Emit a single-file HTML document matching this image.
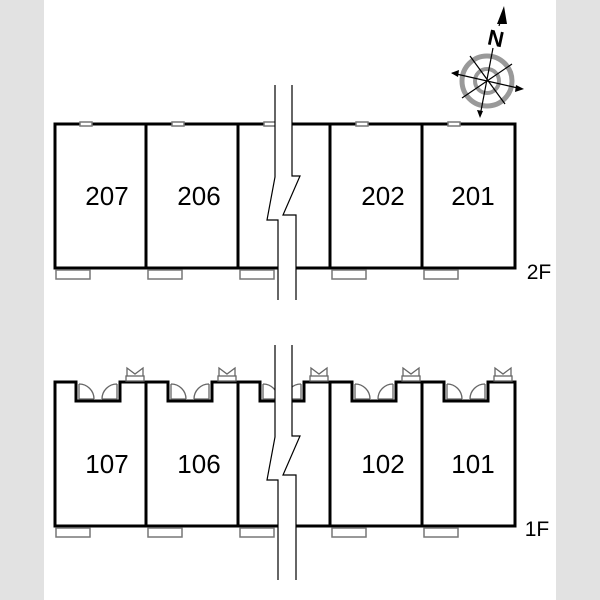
<!DOCTYPE html>
<html><head><meta charset="utf-8"><style>
html,body{margin:0;padding:0;background:#fff}
svg{display:block}
text{font-family:"Liberation Sans",sans-serif}
</style></head><body>
<svg width="600" height="600" viewBox="0 0 600 600" xmlns="http://www.w3.org/2000/svg">
<rect x="0" y="0" width="600" height="600" fill="#fff"/>
<rect x="0" y="0" width="44" height="600" fill="#e2e2e2"/>
<rect x="556" y="0" width="44" height="600" fill="#e2e2e2"/>

<g fill="none" stroke="#000" stroke-width="3">
<rect x="55" y="124" width="460" height="144"/>
<line x1="146" y1="124" x2="146" y2="268"/>
<line x1="238" y1="124" x2="238" y2="268"/>
<line x1="330" y1="124" x2="330" y2="268"/>
<line x1="422" y1="124" x2="422" y2="268"/>
</g>
<g fill="#fff" stroke="#777" stroke-width="1.5">
<rect x="56" y="270" width="34" height="9"/><rect x="148" y="270" width="34" height="9"/><rect x="240" y="270" width="34" height="9"/><rect x="332" y="270" width="34" height="9"/><rect x="424" y="270" width="34" height="9"/>
<rect x="80" y="122" width="12" height="4"/><rect x="172" y="122" width="12" height="4"/><rect x="264" y="122" width="12" height="4"/><rect x="356" y="122" width="12" height="4"/><rect x="448" y="122" width="12" height="4"/>
</g>
<g font-size="26" text-anchor="middle" fill="#000">
<text x="107" y="205">207</text><text x="199" y="205">206</text><text x="383" y="205">202</text><text x="473" y="205">201</text>
<text x="539" y="279" font-size="21">2F</text>
</g>
<path d="M275 85 L275 177 L267 220 L278 220 L278 300 L296 300 L296 215 L283 215 L300 176 L292 176 L292 85 Z" fill="#fff" stroke="none"/>
<g fill="none" stroke="#000" stroke-width="1.2">
<path d="M275 85 L275 177 L267 220 L278 220 L278 300"/>
<path d="M292 85 L292 176 L300 176 L283 215 L296 215 L296 300"/>
</g>

<g fill="none" stroke="#000" stroke-width="3">
<path d="M55 526 L55 382 L76 382 L76 401 L120 401 L120 382 L168 382 L168 401 L212 401 L212 382 L260 382 L260 401 L304 401 L304 382 L352 382 L352 401 L396 401 L396 382 L444 382 L444 401 L488 401 L488 382 L515 382 L515 526 Z"/>
<line x1="146" y1="382" x2="146" y2="526"/>
<line x1="238" y1="382" x2="238" y2="526"/>
<line x1="330" y1="382" x2="330" y2="526"/>
<line x1="422" y1="382" x2="422" y2="526"/>
</g>
<g fill="#fff" stroke="#777" stroke-width="1.5">
<rect x="56" y="528" width="34" height="9"/><rect x="148" y="528" width="34" height="9"/><rect x="240" y="528" width="34" height="9"/><rect x="332" y="528" width="34" height="9"/><rect x="424" y="528" width="34" height="9"/>
</g>
<g fill="none" stroke="#666" stroke-width="1.3">
<g><path d="M79 384 L79 399 L94 399 M79 384 A15 15 0 0 1 94 399"/><path d="M117 384 L117 399 L102 399 M117 384 A15 15 0 0 0 102 399"/><rect x="126" y="376" width="18" height="5"/><path d="M127 376 L127 368 L135 374 L143 368 L143 376"/></g>
<g transform="translate(92,0)"><path d="M79 384 L79 399 L94 399 M79 384 A15 15 0 0 1 94 399"/><path d="M117 384 L117 399 L102 399 M117 384 A15 15 0 0 0 102 399"/><rect x="126" y="376" width="18" height="5"/><path d="M127 376 L127 368 L135 374 L143 368 L143 376"/></g>
<g transform="translate(184,0)"><path d="M79 384 L79 399 L94 399 M79 384 A15 15 0 0 1 94 399"/><path d="M117 384 L117 399 L102 399 M117 384 A15 15 0 0 0 102 399"/><rect x="126" y="376" width="18" height="5"/><path d="M127 376 L127 368 L135 374 L143 368 L143 376"/></g>
<g transform="translate(276,0)"><path d="M79 384 L79 399 L94 399 M79 384 A15 15 0 0 1 94 399"/><path d="M117 384 L117 399 L102 399 M117 384 A15 15 0 0 0 102 399"/><rect x="126" y="376" width="18" height="5"/><path d="M127 376 L127 368 L135 374 L143 368 L143 376"/></g>
<g transform="translate(368,0)"><path d="M79 384 L79 399 L94 399 M79 384 A15 15 0 0 1 94 399"/><path d="M117 384 L117 399 L102 399 M117 384 A15 15 0 0 0 102 399"/><rect x="126" y="376" width="18" height="5"/><path d="M127 376 L127 368 L135 374 L143 368 L143 376"/></g>
</g>
<g font-size="26" text-anchor="middle" fill="#000">
<text x="107" y="473">107</text><text x="199" y="473">106</text><text x="383" y="473">102</text><text x="473" y="473">101</text>
<text x="537" y="536" font-size="21">1F</text>
</g>
<path d="M275 345 L275 437 L267 480 L278 480 L278 580 L296 580 L296 475 L283 475 L300 436 L292 436 L292 345 Z" fill="#fff" stroke="none"/>
<g fill="none" stroke="#000" stroke-width="1.2">
<path d="M275 345 L275 437 L267 480 L278 480 L278 580"/>
<path d="M292 345 L292 436 L300 436 L283 475 L296 475 L296 580"/>
</g>

<g>
<circle cx="487" cy="81" r="25" fill="none" stroke="#999" stroke-width="5"/>
<circle cx="487" cy="81" r="12" fill="none" stroke="#999" stroke-width="4"/>
<g stroke="#000" stroke-width="1.2">
<line x1="493" y1="48" x2="480" y2="116"/>
<line x1="452" y1="73" x2="522" y2="89"/>
<line x1="462" y1="98" x2="512" y2="64"/>
<line x1="470" y1="56" x2="505" y2="104"/>
<line x1="499" y1="26" x2="502" y2="16"/>
</g>
<polygon points="504,6 497,24 507,24" fill="#000"/>
<polygon points="480,118 477,110 483,111" fill="#000"/>
<polygon points="524,89 516,85 515,92" fill="#000"/>
<polygon points="451,73 459,70 458,77" fill="#000"/>
<text x="496" y="46" font-size="22" font-weight="bold" text-anchor="middle" font-family="Liberation Serif,serif" transform="rotate(12 496 38)">N</text>
</g>
</svg>
</body></html>
